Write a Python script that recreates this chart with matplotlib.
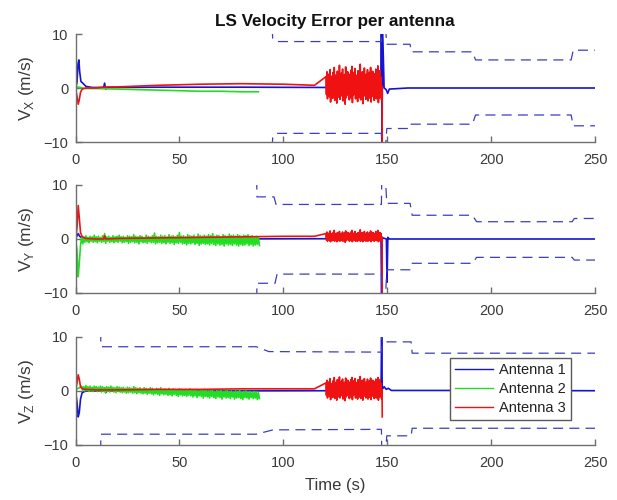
import numpy as np
import matplotlib
matplotlib.use("Agg")
import matplotlib.pyplot as plt
from matplotlib.lines import Line2D

plt.rcParams['font.family'] = ['Liberation Sans', 'DejaVu Sans']
plt.rcParams['mathtext.fontset'] = 'custom'
plt.rcParams['mathtext.rm'] = 'Liberation Sans'

# ---------------- data ----------------
time_ticks = [0, 50, 100, 150, 200, 250]
vel_ticks = [-10, 0, 10]
antenna_names = ["Antenna 1", "Antenna 2", "Antenna 3"]
axis_names = ["X", "Y", "Z"]

# Antenna 1 (blue) velocity error
t_blue_x = [0, 0.7, 1.2, 1.6, 2.0, 2.6, 3.5, 5, 8, 13.5, 14.0, 14.5, 15.5, 40, 80, 120, 147.0, 147.2, 147.5, 147.8, 148.5, 149.5, 150.2, 151, 160, 200, 250]
v_blue_x = [0, 1.0, 4.5, 5.2, 3.0, 1.2, 0.9, 0.3, 0.1, 0.1, 0.9, -0.2, 0.1, 0.15, 0.15, 0.1, 0.1, 10.5, -10.5, 10.5, 0.0, -0.3, -1.0, -0.2, 0.0, 0.0, 0.0]
t_blue_y = [0, 0.7, 1.3, 2, 3, 5, 14, 14.5, 15, 60, 120, 147.0, 147.3, 147.6, 148.0, 149.6, 149.9, 150.3, 151, 200, 250]
v_blue_y = [0, 0.6, 1.0, 0.5, 0.2, 0.0, 0.0, 0.3, 0.0, 0.0, 0.05, 0.05, -10.5, 0.0, 0.2, 0.0, -8.0, 0.3, 0.0, 0.0, 0.0]
t_blue_z = [0, 0.7, 1.3, 1.8, 2.4, 3.2, 5, 13.5, 14, 14.5, 15, 60, 120, 147.0, 147.3, 147.6, 148.5, 149.5, 150.5, 152, 200, 250]
v_blue_z = [0, -2.0, -4.8, -4.0, -1.5, -0.3, 0.0, 0.0, 0.6, -0.3, 0.0, 0.0, 0.05, 0.05, 10.5, 0.3, 0.8, 0.3, 0.5, 0.1, 0.1, 0.05]

# Antenna 2 (green) velocity error
t_green_x = [0, 1, 2, 5, 10, 20, 30, 40, 50, 60, 70, 80, 88]
v_green_x = [0, 0.2, 0.1, -0.1, -0.1, -0.2, -0.3, -0.4, -0.5, -0.6, -0.6, -0.7, -0.7]
t_green_y_start = [0, 0.7, 1.3, 1.8, 2.4]
v_green_y_start = [0, -2.0, -7.0, -4.5, -1.2]
t_green_z_start = [0, 1, 2]
v_green_z_start = [0, 0.5, 0.6]
green_band_t0 = 3.0
green_band_step = 1.0
green_hi_y = [0.5, 0.4, 0.6, 0.3, 0.5, 0.4, 0.7, 0.4, 0.5, 0.3,
              0.6, 1.0, 0.4, 0.5, 0.3, 0.6, 0.4, 0.5, 0.7, 0.4,
              0.5, 0.3, 0.6, 0.5, 0.4, 0.8, 0.5, 0.4, 0.6, 0.5,
              0.3, 0.7, 0.5, 0.4, 0.6, 1.1, 0.5, 0.4, 0.7, 0.5,
              0.6, 0.4, 0.8, 0.5, 0.6, 0.4, 0.7, 1.2, 0.5, 0.6,
              0.4, 0.8, 0.6, 0.5, 0.7, 0.4, 0.9, 0.6, 0.5, 0.7,
              0.5, 0.8, 0.6, 1.0, 0.5, 0.7, 0.6, 0.4, 0.8, 0.6,
              0.5, 0.9, 0.6, 0.7, 0.5, 0.8, 0.6, 0.5, 0.7, 0.6,
              0.8, 0.5, 0.6, 0.4, 0.5, 0.3]
green_lo_y = [-0.9, -0.6, -0.5, -0.7, -0.4, -0.6, -0.5, -0.7, -0.4, -0.6,
              -0.5, -0.8, -0.4, -0.6, -0.5, -0.7, -0.5, -0.6, -0.4, -0.7,
              -0.6, -0.5, -0.8, -0.6, -0.5, -0.7, -0.6, -0.9, -0.5, -0.7,
              -0.6, -0.8, -0.5, -0.7, -0.6, -0.9, -0.7, -0.6, -0.8, -0.7,
              -0.9, -0.6, -0.8, -0.7, -1.0, -0.7, -0.8, -0.6, -0.9, -0.8,
              -1.1, -0.8, -0.9, -0.7, -1.0, -0.8, -1.2, -0.9, -0.8, -1.0,
              -0.9, -1.1, -0.8, -1.0, -1.2, -0.9, -1.1, -1.0, -1.3, -0.9,
              -1.1, -1.0, -1.2, -0.9, -1.1, -1.3, -1.0, -1.2, -1.1, -0.9,
              -1.2, -1.0, -1.3, -1.1, -1.0, -1.2]
green_hi_z = [0.9, 0.8, 1.0, 0.8, 0.9, 0.7, 0.9, 0.8, 0.7, 0.9,
              0.8, 0.6, 0.8, 0.7, 0.9, 0.7, 0.6, 0.8, 0.7, 0.6,
              0.7, 0.5, 0.7, 0.6, 0.5, 0.8, 0.6, 0.5, 0.6, 0.4,
              0.6, 0.5, 0.4, 0.6, 0.5, 0.3, 0.5, 0.4, 0.6, 0.3,
              0.4, 0.3, 0.5, 0.2, 0.4, 0.3, 0.2, 0.4, 0.3, 0.1,
              0.3, 0.2, 0.4, 0.1, 0.2, 0.3, 0.0, 0.2, 0.1, 0.3,
              0.1, 0.0, 0.2, 0.1, -0.1, 0.1, 0.0, 0.2, -0.1, 0.0,
              0.1, -0.1, 0.0, -0.2, 0.0, -0.1, 0.1, -0.2, -0.1, 0.0,
              -0.2, -0.1, -0.3, -0.1, -0.2, -0.3]
green_lo_z = [0.1, 0.0, 0.1, -0.1, 0.0, -0.1, 0.1, -0.1, 0.0, -0.2,
              -0.1, -0.3, -0.1, -0.2, 0.0, -0.2, -0.3, -0.1, -0.2, -0.3,
              -0.2, -0.4, -0.3, -0.2, -0.4, -0.3, -0.5, -0.3, -0.4, -0.5,
              -0.4, -0.6, -0.4, -0.5, -0.7, -0.5, -0.6, -0.8, -0.5, -0.7,
              -0.6, -0.8, -0.7, -0.9, -0.6, -0.8, -1.0, -0.7, -0.9, -0.8,
              -1.0, -0.8, -0.9, -1.1, -0.9, -1.2, -0.9, -1.0, -1.3, -1.0,
              -1.1, -1.3, -1.0, -1.2, -1.4, -1.1, -1.2, -1.5, -1.1, -1.3,
              -1.2, -1.4, -1.1, -1.5, -1.3, -1.2, -1.4, -1.6, -1.2, -1.3,
              -1.5, -1.2, -1.4, -1.3, -1.6, -1.4]

# Antenna 3 (red) velocity error
t_red_x_start = [0, 0.7, 1.3, 1.8, 2.4, 3.2, 5, 10, 14, 20, 40, 60, 80, 100, 115]
v_red_x_start = [0, -1.5, -3.0, -2.2, -0.8, -0.2, 0.0, 0.0, 0.2, 0.2, 0.5, 0.7, 0.8, 0.7, 0.5]
t_red_y_start = [0, 0.7, 1.3, 1.8, 2.4, 3.2, 5, 10, 13.5, 14, 14.5, 20, 40, 60, 80, 100, 115]
v_red_y_start = [0, 2.0, 6.2, 4.0, 1.2, 0.4, 0.1, 0.0, 0.0, 0.6, 0.0, 0.1, 0.2, 0.3, 0.4, 0.5, 0.5]
t_red_z_start = [0, 0.7, 1.3, 1.8, 2.4, 3.2, 5, 10, 20, 40, 60, 80, 100, 115]
v_red_z_start = [0, 1.5, 3.0, 2.2, 0.8, 0.4, 0.3, 0.2, 0.2, 0.3, 0.3, 0.4, 0.4, 0.4]
t_red_end = [147.5, 147.6]
v_red_x_end = [0.3, -10.5]
v_red_y_end = [0.4, -10.5]
v_red_z_end = [0.3, -4.8]
red_burst_t0 = 120.5
red_burst_step = 0.5
red_hi_x = [2.1, 3.0, 1.8, 2.6, 3.4, 2.2, 1.6, 2.9, 3.8, 2.4,
            1.9, 3.1, 2.7, 4.2, 2.0, 2.8, 3.5, 1.7, 2.5, 3.9,
            2.3, 3.0, 2.6, 1.8, 3.3, 4.0, 2.1, 2.9, 3.6, 2.4,
            1.9, 3.2, 2.8, 4.4, 2.2, 3.0, 2.5, 3.7, 1.8, 2.6,
            3.4, 2.0, 2.9, 3.8, 2.3, 3.1, 2.7, 1.9, 3.5, 2.4,
            4.1, 2.8, 3.2, 2.0]
red_lo_x = [-1.2, -2.0, -0.8, -1.6, -2.6, -1.1, -1.9, -0.7, -2.3, -1.4,
            -2.8, -1.0, -1.7, -2.1, -0.9, -1.5, -2.4, -1.2, -3.0, -1.8,
            -0.8, -1.4, -2.2, -1.1, -1.9, -2.7, -1.3, -0.9, -2.0, -1.6,
            -2.5, -1.0, -1.8, -2.2, -1.3, -2.9, -1.5, -0.8, -2.1, -1.7,
            -2.4, -1.1, -1.9, -2.6, -1.2, -1.6, -2.3, -0.9, -2.0, -1.4,
            -2.7, -1.8, -1.3, -2.2]
red_hi_y = [1.0, 1.3, 0.9, 1.1, 1.5, 1.0, 0.8, 1.2, 1.6, 1.0,
            0.9, 1.2, 1.1, 1.4, 0.9, 1.0, 1.3, 0.8, 1.1, 1.5,
            1.0, 1.2, 1.1, 0.9, 1.3, 1.6, 1.0, 1.1, 1.4, 1.0,
            0.9, 1.2, 1.1, 1.7, 1.0, 1.2, 1.0, 1.4, 0.9, 1.1,
            1.3, 0.9, 1.1, 1.5, 1.0, 1.2, 1.1, 0.9, 1.4, 1.0,
            1.6, 1.1, 1.2, 1.0]
red_lo_y = [-0.2, -0.4, -0.1, -0.3, -0.5, -0.2, -0.3, -0.1, -0.4, -0.2,
            -0.5, -0.2, -0.3, -0.4, -0.1, -0.3, -0.4, -0.2, -0.6, -0.3,
            -0.1, -0.2, -0.4, -0.2, -0.3, -0.5, -0.2, -0.1, -0.4, -0.3,
            -0.4, -0.2, -0.3, -0.4, -0.2, -0.5, -0.3, -0.1, -0.4, -0.3,
            -0.4, -0.2, -0.3, -0.5, -0.2, -0.3, -0.4, -0.1, -0.3, -0.2,
            -0.5, -0.3, -0.2, -0.4]
red_hi_z = [1.5, 2.0, 1.2, 1.7, 2.3, 1.4, 1.1, 1.9, 2.5, 1.6,
            1.3, 2.1, 1.8, 2.6, 1.3, 1.8, 2.2, 1.1, 1.6, 2.4,
            1.5, 2.0, 1.7, 1.2, 2.1, 2.5, 1.4, 1.9, 2.3, 1.6,
            1.3, 2.1, 1.8, 2.7, 1.5, 2.0, 1.6, 2.3, 1.2, 1.7,
            2.2, 1.3, 1.9, 2.4, 1.5, 2.0, 1.8, 1.3, 2.2, 1.6,
            2.5, 1.8, 2.1, 1.4]
red_lo_z = [-0.8, -1.3, -0.5, -1.0, -1.6, -0.7, -1.2, -0.4, -1.4, -0.9,
            -1.7, -0.6, -1.1, -1.3, -0.5, -0.9, -1.5, -0.8, -1.8, -1.1,
            -0.5, -0.9, -1.4, -0.7, -1.2, -1.6, -0.8, -0.5, -1.3, -1.0,
            -1.5, -0.6, -1.1, -1.4, -0.8, -1.7, -1.0, -0.5, -1.3, -1.1,
            -1.5, -0.7, -1.2, -1.6, -0.8, -1.0, -1.4, -0.6, -1.3, -0.9,
            -1.7, -1.1, -0.8, -1.4]

# Uncertainty bounds (dashed)
t_ub_x = [94.6, 94.9, 96.5, 147.2, 147.4, 149.0, 149.8, 161.0, 161.5, 191.0, 192.5, 238.5, 239.5, 250]
v_ub_x = [11.0, 9.2, 8.6, 8.6, 12.0, 12.0, 8.1, 8.1, 6.7, 6.7, 5.2, 5.2, 7.0, 7.0]
t_lb_x = [94.6, 94.9, 96.5, 147.2, 147.4, 149.0, 149.8, 161.0, 161.5, 191.0, 192.5, 238.5, 239.5, 250]
v_lb_x = [-11.0, -9.2, -8.4, -8.4, -12.0, -12.0, -7.5, -7.5, -6.7, -6.7, -5.0, -5.0, -7.0, -7.0]
t_ub_y = [87.2, 87.3, 95.5, 96.5, 147.2, 147.4, 149.0, 149.8, 161.0, 162.0, 191.0, 193.0, 239.0, 240.0, 250]
v_ub_y = [11.0, 7.8, 7.8, 6.4, 6.4, 12.0, 12.0, 6.6, 6.6, 4.4, 4.4, 3.2, 3.2, 3.8, 3.8]
t_lb_y = [87.2, 87.3, 96.0, 97.0, 147.2, 147.4, 149.0, 149.8, 161.0, 162.0, 191.0, 193.0, 239.0, 240.0, 250]
v_lb_y = [-11.0, -8.2, -8.2, -6.5, -6.5, -12.0, -12.0, -5.7, -5.7, -4.5, -4.5, -3.4, -3.4, -3.9, -3.9]
t_ub_z = [12.1, 12.2, 87.0, 93.0, 147.2, 147.4, 149.0, 149.8, 161.5, 162.0, 250]
v_ub_z = [11.0, 8.2, 8.2, 7.3, 7.2, 12.0, 12.0, 9.1, 9.1, 7.0, 7.0]
t_lb_z = [12.1, 12.2, 87.0, 95.0, 147.2, 147.4, 149.0, 149.8, 161.5, 162.0, 250]
v_lb_z = [-11.0, -8.0, -8.0, -7.2, -7.1, -12.0, -12.0, -8.3, -8.3, -6.9, -6.9]


def zigzag(t0, step, hi, lo):
    """Alternate between upper and lower sample values to draw a dense noise band."""
    hi = np.asarray(hi, float)
    lo = np.asarray(lo, float)
    t = t0 + step * np.arange(len(hi))
    tt = np.column_stack([t, t + step / 2]).ravel()
    vv = np.column_stack([hi, lo]).ravel()
    return tt, vv


def join(*parts):
    ts = np.concatenate([np.asarray(p[0], float) for p in parts])
    vs = np.concatenate([np.asarray(p[1], float) for p in parts])
    return ts, vs


c_blue = '#1414d2'
c_green = '#22dd22'
c_red = '#f01212'
c_bound = '#3d3dc2'
c_axis = '#6e6e6e'
c_text = '#3a3a3a'

blue_series = [(t_blue_x, v_blue_x), (t_blue_y, v_blue_y), (t_blue_z, v_blue_z)]

green_series = [
    (t_green_x, v_green_x),
    join((t_green_y_start, v_green_y_start),
         zigzag(green_band_t0, green_band_step, green_hi_y, green_lo_y)),
    join((t_green_z_start, v_green_z_start),
         zigzag(green_band_t0, green_band_step, green_hi_z, green_lo_z)),
]

red_series = [
    join((t_red_x_start, v_red_x_start),
         zigzag(red_burst_t0, red_burst_step, red_hi_x, red_lo_x),
         (t_red_end, v_red_x_end)),
    join((t_red_y_start, v_red_y_start),
         zigzag(red_burst_t0, red_burst_step, red_hi_y, red_lo_y),
         (t_red_end, v_red_y_end)),
    join((t_red_z_start, v_red_z_start),
         zigzag(red_burst_t0, red_burst_step, red_hi_z, red_lo_z),
         (t_red_end, v_red_z_end)),
]

bounds = [
    ((t_ub_x, v_ub_x), (t_lb_x, v_lb_x)),
    ((t_ub_y, v_ub_y), (t_lb_y, v_lb_y)),
    ((t_ub_z, v_ub_z), (t_lb_z, v_lb_z)),
]

fig = plt.figure(figsize=(6.17, 5.0), dpi=100)
left, width, height = 0.1224, 0.842, 0.216
bottoms = [0.716, 0.414, 0.110]

axes = []
for i, b in enumerate(bottoms):
    ax = fig.add_axes([left, b, width, height])
    axes.append(ax)
    ax.plot(*blue_series[i], color=c_blue, lw=1.2)
    ax.plot(*green_series[i], color=c_green, lw=1.2)
    ax.plot(*red_series[i], color=c_red, lw=1.2)
    for tb, vb in bounds[i]:
        ax.plot(tb, vb, color=c_bound, lw=0.9, linestyle=(0, (8, 5)))
    ax.set_xlim(0, 250)
    ax.set_ylim(-10, 10)
    ax.set_xticks(time_ticks)
    ax.set_yticks(vel_ticks)
    for s in ('top', 'right'):
        ax.spines[s].set_visible(False)
    for s in ('left', 'bottom'):
        ax.spines[s].set_color(c_axis)
        ax.spines[s].set_linewidth(1.0)
    ax.tick_params(direction='in', length=4, width=1.0, color=c_axis,
                   labelcolor=c_text, labelsize=10.5, pad=5)
    ax.tick_params(axis='x', pad=8)
    ax.set_ylabel(r'V$_{\mathregular{%s}}$ (m/s)' % axis_names[i], fontsize=12.5,
                  color=c_text)
    ax.yaxis.set_label_coords(-0.076, 0.5)

axes[0].set_title('LS Velocity Error per antenna', fontsize=12.3, fontweight='bold',
                  color='#111111', pad=6)
axes[2].set_xlabel('Time (s)', fontsize=12, color=c_text, labelpad=6)

handles = [Line2D([], [], color=c, lw=1.0) for c in (c_blue, c_green, c_red)]
leg = axes[2].legend(handles, antenna_names, loc='upper left',
                     bbox_to_anchor=(0.721, 0.806), borderaxespad=0,
                     fontsize=10.5, handlelength=2.6, handletextpad=0.4,
                     labelspacing=0.35, borderpad=0.35, fancybox=False,
                     framealpha=1.0)
leg.get_frame().set_edgecolor('#5a5a5a')
leg.get_frame().set_linewidth(1.0)
for txt in leg.get_texts():
    txt.set_color('#222222')

fig.savefig('out.png', dpi=100, facecolor='white')
